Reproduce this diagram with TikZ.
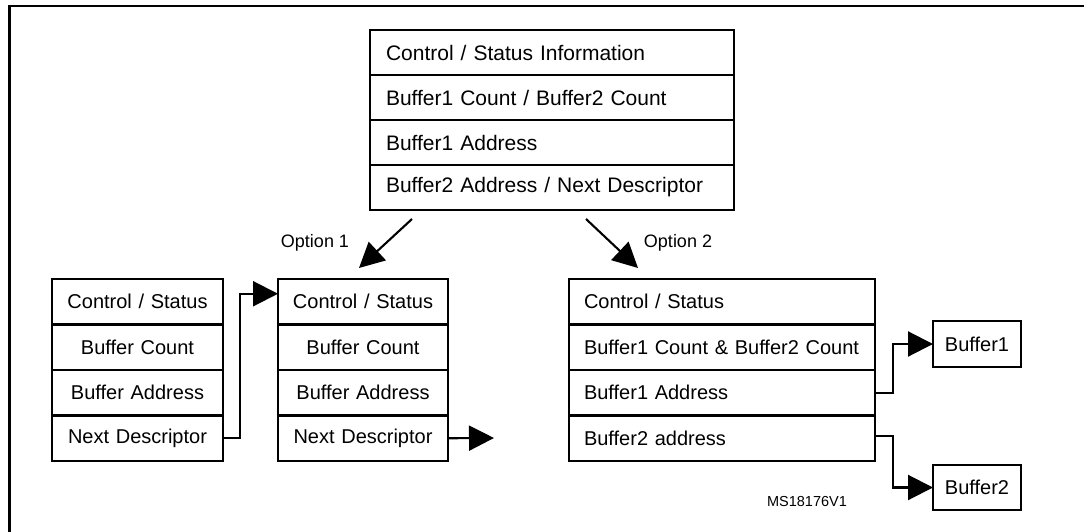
\documentclass[tikz,border=0pt]{standalone}
\usepackage{fontspec}
\setmainfont{Liberation Sans}
\usetikzlibrary{arrows.meta}
\begin{document}
\begin{tikzpicture}[x=1pt,y=-1pt,
  cell/.style={draw, line width=2.1pt, outer sep=0pt, inner ysep=0pt, anchor=north west,
    font=\fontsize{20}{24}\selectfont},
  lcell/.style 2 args={cell, align=left, inner xsep=#2, text width=#1-2*#2},
  ccell/.style={cell, align=center, inner xsep=3pt, text width=#1-6pt},
  conn/.style={line width=2.1pt, -{Triangle[length=25pt,width=25pt]}},
  lbl/.style={font=\fontsize{18}{22}\selectfont, inner sep=0pt},
]
\useasboundingbox (0,0) rectangle (1084,532);
\draw[line width=2.4pt] (9.5,534) -- (9.5,6) -- (1086,6);

% top descriptor
\node[lcell={364pt}{16pt}, minimum height=45pt, font=\fontsize{21}{25}\selectfont] (T1) at (370,30) {Control / Status Information};
\node[lcell={364pt}{16pt}, minimum height=45pt, font=\fontsize{21}{25}\selectfont] (T2) at (370,75) {Buffer1 Count / Buffer2 Count};
\node[lcell={364pt}{16pt}, minimum height=45pt, font=\fontsize{21}{25}\selectfont] (T3) at (370,120) {Buffer1 Address};
\node[lcell={364pt}{16pt}, minimum height=45pt, font=\fontsize{21}{25}\selectfont] (T4) at (370,165) {Buffer2 Address / Next Descriptor};

% option labels and arrows
\node[lbl] (op1) at (315,243) {Option 1};
\node[lbl] (op2) at (678,243) {Option 2};
\coordinate (o1s) at (412,219);
\coordinate (o1e) at (359,268);
\coordinate (o2s) at (586,219);
\coordinate (o2e) at (638,268);
\draw[conn] (o1s) -- (o1e);
\draw[conn] (o2s) -- (o2e);

% left descriptor (option 1)
\node[ccell=171pt, minimum height=45.5pt] (L1) at (52,279) {Control / Status};
\node[ccell=171pt, minimum height=45.5pt] (L2) at (52,324.5) {Buffer Count};
\node[ccell=171pt, minimum height=45.5pt] (L3) at (52,370) {Buffer Address};
\node[ccell=171pt, minimum height=45.5pt] (L4) at (52,415.5) {Next Descriptor};

% middle descriptor (option 1)
\node[ccell=170pt, minimum height=45.5pt] (M1) at (278,279) {Control / Status};
\node[ccell=170pt, minimum height=45.5pt] (M2) at (278,324.5) {Buffer Count};
\node[ccell=170pt, minimum height=45.5pt] (M3) at (278,370) {Buffer Address};
\node[ccell=170pt, minimum height=45.5pt] (M4) at (278,415.5) {Next Descriptor};

% right descriptor (option 2)
\node[lcell={306pt}{15pt}, minimum height=45.5pt] (R1) at (569,279) {Control / Status};
\node[lcell={306pt}{15pt}, minimum height=45.5pt] (R2) at (569,324.5) {Buffer1 Count \& Buffer2 Count};
\node[lcell={306pt}{15pt}, minimum height=45.5pt] (R3) at (569,370) {Buffer1 Address};
\node[lcell={306pt}{15pt}, minimum height=45.5pt] (R4) at (569,415.5) {Buffer2 address};

% buffers
\node[ccell=88pt, minimum height=46pt] (B1) at (933,321) {Buffer1};
\node[ccell=88pt, minimum height=45pt] (B2) at (933,465) {Buffer2};

% connectors
\draw[conn] (L4.east) -- ++(17,0) |- ([yshift=8pt]M1.west);
\coordinate (mend) at (494,438);
\draw[conn] (M4.east) -- (mend);
\draw[conn] (R3.east) -- ++(18,0) |- (B1.west);
\draw[conn] ([yshift=2pt]R4.east) -- ++(18,0) |- (B2.west);

\node[font=\fontsize{14.5}{17}\selectfont, inner sep=0pt] (ms) at (807,502) {MS18176V1};
\end{tikzpicture}
\end{document}
